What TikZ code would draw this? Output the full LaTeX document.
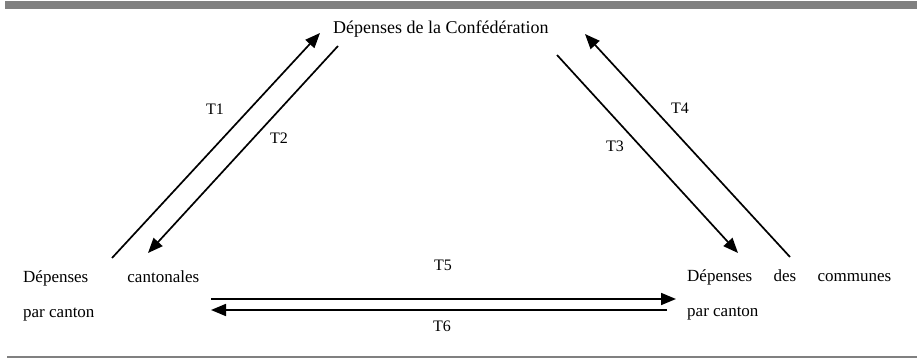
\documentclass[tikz,border=0pt]{standalone}
\usepackage{fontspec}
\setmainfont{Liberation Serif}
\usetikzlibrary{arrows.meta}
\begin{document}
\begin{tikzpicture}[x=1pt,y=-1pt,
  lbl/.style={inner sep=0pt, font=\fontsize{17}{20}\selectfont, anchor=base west},
  tlbl/.style={inner sep=0pt, font=\fontsize{16}{19}\selectfont},
  flow/.style={line width=1.7pt, -{Triangle[length=15pt,width=12pt]}},
  rule/.style={draw=none, fill=black!50}]
\useasboundingbox (0,0) rectangle (917,358);
% top bar and bottom rule
\fill[black!50] (5,1) rectangle (917,9);
\fill[black!50] (7,355.8) rectangle (917,357.6);
% nodes
\node[inner sep=0pt, font=\fontsize{18}{21}\selectfont, anchor=base west] (conf) at (333,34) {Dépenses de la Confédération};
\node[lbl] (cantA) at (23,282) {\hbox to 176pt{Dépenses\hfill cantonales}};
\node[lbl] (cantB) at (23,317) {par canton};
\node[lbl] (commA) at (687,281) {\hbox to 204pt{Dépenses\hfill des\hfill communes}};
\node[lbl] (commB) at (687,316) {par canton};
% arrow ends
\coordinate (t1s) at (112,258);
\coordinate (t1e) at (320,33);
\coordinate (t2s) at (338,46);
\coordinate (t2e) at (148,253);
\coordinate (t3s) at (557,55);
\coordinate (t3e) at (738,253);
\coordinate (t4s) at (790,257);
\coordinate (t4e) at (585,34);
\coordinate (t5s) at (211,299);
\coordinate (t5e) at (676,299);
\coordinate (t6s) at (667,310);
\coordinate (t6e) at (211,310);
% arrows
\draw[flow] (t1s) -- (t1e);
\draw[flow] (t2s) -- (t2e);
\draw[flow] (t3s) -- (t3e);
\draw[flow] (t4s) -- (t4e);
\draw[flow] (t5s) -- (t5e);
\draw[flow] (t6s) -- (t6e);
% labels
\node[tlbl] (T1) at (215,109) {T1};
\node[tlbl] (T2) at (279,138) {T2};
\node[tlbl] (T3) at (615,146) {T3};
\node[tlbl] (T4) at (680,108) {T4};
\node[tlbl] (T5) at (443,265) {T5};
\node[tlbl] (T6) at (442,326) {T6};
\end{tikzpicture}
\end{document}
